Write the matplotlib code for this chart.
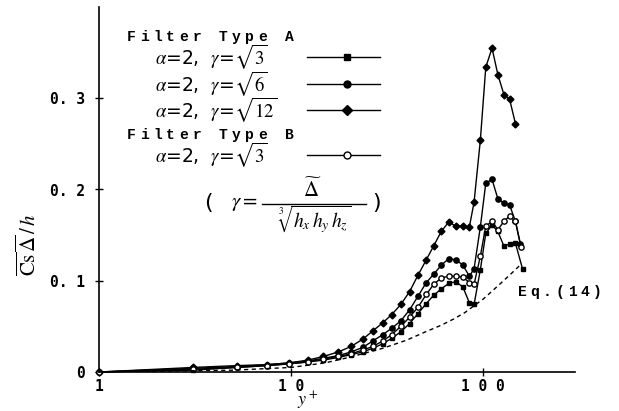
import numpy as np
import matplotlib
matplotlib.use("Agg")
import matplotlib.pyplot as plt

plt.rcParams['mathtext.fontset'] = 'stix'

# y+ positions and values
yp_a3 = [1, 3.1, 5.2, 7.5, 9.8, 12.2, 14.7, 17.6, 20.5, 23.6, 26.6, 30, 33.4, 37.2, 41.3, 45.7,
         50.5, 55.1, 60.4, 65.9, 72.1, 78.3, 84.6, 89.5, 96.5, 103, 111, 119, 128, 137, 147, 160]
cs_a3 = [0, 0.002, 0.005, 0.007, 0.009, 0.011, 0.013, 0.016, 0.019, 0.022, 0.026, 0.031, 0.037,
         0.044, 0.053, 0.064, 0.075, 0.084, 0.091, 0.097, 0.099, 0.093, 0.076, 0.074, 0.112,
         0.152, 0.161, 0.154, 0.138, 0.140, 0.141, 0.113]

yp_a6 = [1, 3.1, 5.2, 7.5, 9.8, 12.2, 14.7, 17.6, 20.5, 23.6, 26.6, 30, 33.4, 37.2, 41.3, 45.7,
         50.5, 55.1, 60.4, 65.9, 72.1, 78.3, 84.6, 89.5, 96.5, 103, 111, 119, 128, 137, 147, 156]
cs_a6 = [0, 0.004, 0.006, 0.008, 0.010, 0.012, 0.015, 0.018, 0.022, 0.027, 0.034, 0.041, 0.048,
         0.056, 0.068, 0.083, 0.098, 0.107, 0.117, 0.124, 0.123, 0.117, 0.105, 0.113, 0.159,
         0.207, 0.211, 0.190, 0.185, 0.183, 0.165, 0.140]

yp_a12 = [1, 3.1, 5.2, 7.5, 9.8, 12.2, 14.7, 17.6, 20.5, 23.6, 26.6, 30, 33.4, 37.2, 41.3, 45.7,
          50.5, 55.1, 60.4, 65.9, 72.1, 78.3, 84.6, 89.5, 96.5, 103, 111, 119, 128, 137, 147]
cs_a12 = [0, 0.005, 0.007, 0.008, 0.010, 0.013, 0.017, 0.022, 0.028, 0.036, 0.045, 0.054, 0.063,
          0.074, 0.088, 0.106, 0.123, 0.138, 0.154, 0.164, 0.160, 0.160, 0.159, 0.186, 0.254,
          0.334, 0.355, 0.326, 0.304, 0.299, 0.272]

yp_b3 = [1, 3.1, 5.2, 7.5, 9.8, 12.2, 14.7, 17.6, 20.5, 23.6, 26.6, 30, 33.4, 37.2, 41.3, 45.7,
         50.5, 55.1, 60.4, 65.9, 72.1, 78.3, 84.6, 89.5, 96.5, 103, 111, 119, 128, 137, 147, 157]
cs_b3 = [0, 0.003, 0.005, 0.007, 0.009, 0.011, 0.014, 0.017, 0.020, 0.024, 0.028, 0.034, 0.041,
         0.050, 0.060, 0.071, 0.085, 0.096, 0.103, 0.105, 0.105, 0.104, 0.098, 0.096, 0.127,
         0.160, 0.165, 0.156, 0.165, 0.171, 0.165, 0.137]

yp_eq = [1, 5, 10, 15, 20, 30, 40, 50, 60, 70, 80, 90, 100, 120, 140, 157]
cs_eq = [0, 0.002, 0.005, 0.010, 0.016, 0.026, 0.035, 0.044, 0.051, 0.058, 0.065, 0.073,
         0.080, 0.095, 0.108, 0.118]

W, H = 619, 411


def px(x, y):
    return x / W, 1 - y / H


def spaced(fig, x, y, s, pitch, **kw):
    # typewriter-like text: one glyph every `pitch` pixels
    for i, ch in enumerate(s):
        if ch != ' ':
            fig.text(*px(x + i * pitch, y), ch, ha='center', va='center', **kw)


fig = plt.figure(figsize=(6.19, 4.11), dpi=100)
ax = fig.add_axes([99 / W, 1 - 372 / H, 476 / W, 365 / H])

kw = dict(color='black', lw=1.0, clip_on=False)
ax.plot(yp_a3, cs_a3, marker='s', ms=3.5, **kw)
ax.plot(yp_a6, cs_a6, marker='o', ms=3.8, **kw)
ax.plot(yp_a12, cs_a12, marker='D', ms=3.5, **kw)
ax.plot(yp_b3, cs_b3, marker='o', ms=3.8, mfc='white', **kw)
ax.plot(yp_eq, cs_eq, color='black', lw=1.0, ls=(0, (3, 2.5)))

ax.set_xscale('log')
ax.set_xlim(1, 300)
ax.set_ylim(0, 0.4)
for s in ['top', 'right']:
    ax.spines[s].set_visible(False)
ax.spines['left'].set_linewidth(1.2)
ax.spines['bottom'].set_linewidth(1.2)

mono = dict(family='DejaVu Sans Mono', weight='bold', size=10.5)
ax.set_xticks([1, 10, 100])
ax.set_xticklabels(['1', '1 0', '1 0 0'], **mono)
ax.xaxis.set_minor_locator(matplotlib.ticker.NullLocator())
ax.set_yticks([0, 0.1, 0.2, 0.3])
ax.set_yticklabels(['0', '0. 1', '0. 2', '0. 3'], **mono)
ax.tick_params(axis='both', direction='inout', length=6, width=1.0)
ax.tick_params(axis='x', pad=2)
ax.tick_params(axis='y', pad=7)

fig.text(*px(308, 401), r'$y^+$', fontsize=13, ha='center', va='center')
fig.text(*px(28, 245), r'$\overline{\mathrm{Cs}}\,\overline{\Delta}\,/\,h$', fontsize=15,
         rotation=90, ha='center', va='center')

# legend drawn by hand
lab = dict(family='Liberation Mono', weight='bold', size=10.5)
spaced(fig, 131, 37, 'Filter Type A', 13.2, **lab)
spaced(fig, 131, 135, 'Filter Type B', 13.2, **lab)

rows = [(57, r'$\alpha$=2,  $\gamma$=$\sqrt{3}$', 's', 'black'),
        (84, r'$\alpha$=2,  $\gamma$=$\sqrt{6}$', 'o', 'black'),
        (110, r'$\alpha$=2,  $\gamma$=$\sqrt{12}$', 'D', 'black'),
        (155, r'$\alpha$=2,  $\gamma$=$\sqrt{3}$', 'o', 'white')]
for y, txt, m, fc in rows:
    fig.text(*px(155, y), txt, fontsize=13.5, ha='left', va='center')
    x0, y0 = px(307, y)
    x1, _ = px(380, y)
    xm, _ = px(347, y)
    fig.add_artist(plt.Line2D([x0, x1], [y0, y0], color='black', lw=1.0))
    fig.add_artist(plt.Line2D([xm], [y0], marker=m, ms=5, mfc=fc, mec='black', color='black'))

# (gamma = tilde Delta / cube root of hx hy hz), built from pieces
fig.text(*px(208, 203), '(', fontsize=16, ha='center', va='center')
fig.text(*px(377, 203), ')', fontsize=16, ha='center', va='center')
fig.text(*px(244, 203), r'$\gamma=$', fontsize=15, ha='center', va='center')
fb0, fby = px(262, 204)
fb1, _ = px(366, 204)
fig.add_artist(plt.Line2D([fb0, fb1], [fby, fby], color='black', lw=1.0))
fig.text(*px(312, 189), r'$\widetilde{\Delta}$', fontsize=15, ha='center', va='center')
fig.text(*px(314, 219), r'$\sqrt[3]{h_x\,h_y\,h_z}$', fontsize=14, ha='center', va='center')

spaced(fig, 522, 292, 'Eq.(14)', 12.5, family='Liberation Mono', weight='bold', size=10.5)

fig.savefig('out.png', dpi=100)
